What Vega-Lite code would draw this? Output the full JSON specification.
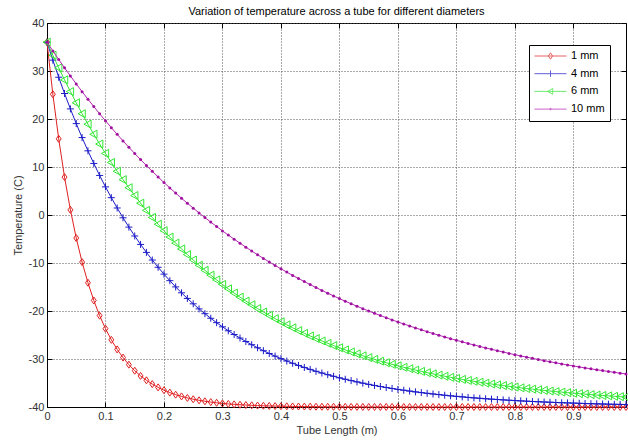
{
"$schema":"https://vega.github.io/schema/vega-lite/v6.json",
"width":579,"height":384,
"autosize":{"type":"none"},
"padding":{"left":47,"top":23,"right":2,"bottom":35},
"background":"#ffffff",
"title":{"text":"Variation of temperature across a tube for different diameters","fontSize":11,"fontWeight":"normal","font":"Liberation Sans","color":"#000","anchor":"middle","offset":0},
"data":{"values":[
{"s":"1 mm","x":0,"t":36},{"s":"1 mm","x":0.01,"t":25.16},{"s":"1 mm","x":0.02,"t":15.87},{"s":"1 mm","x":0.03,"t":7.9},{"s":"1 mm","x":0.04,"t":1.07},{"s":"1 mm","x":0.05,"t":-4.79},{"s":"1 mm","x":0.06,"t":-9.81},{"s":"1 mm","x":0.07,"t":-14.11},{"s":"1 mm","x":0.08,"t":-17.8},{"s":"1 mm","x":0.09,"t":-20.97},
{"s":"1 mm","x":0.1,"t":-23.68},{"s":"1 mm","x":0.11,"t":-26.01},{"s":"1 mm","x":0.12,"t":-28.0},{"s":"1 mm","x":0.13,"t":-29.71},{"s":"1 mm","x":0.14,"t":-31.18},{"s":"1 mm","x":0.15,"t":-32.44},{"s":"1 mm","x":0.16,"t":-33.52},{"s":"1 mm","x":0.17,"t":-34.44},{"s":"1 mm","x":0.18,"t":-35.23},{"s":"1 mm","x":0.19,"t":-35.91},
{"s":"1 mm","x":0.2,"t":-36.5},{"s":"1 mm","x":0.21,"t":-37},{"s":"1 mm","x":0.22,"t":-37.43},{"s":"1 mm","x":0.23,"t":-37.79},{"s":"1 mm","x":0.24,"t":-38.11},{"s":"1 mm","x":0.25,"t":-38.38},{"s":"1 mm","x":0.26,"t":-38.61},{"s":"1 mm","x":0.27,"t":-38.81},{"s":"1 mm","x":0.28,"t":-38.98},{"s":"1 mm","x":0.29,"t":-39.12},
{"s":"1 mm","x":0.3,"t":-39.25},{"s":"1 mm","x":0.31,"t":-39.36},{"s":"1 mm","x":0.32,"t":-39.45},{"s":"1 mm","x":0.33,"t":-39.53},{"s":"1 mm","x":0.34,"t":-39.59},{"s":"1 mm","x":0.35,"t":-39.65},{"s":"1 mm","x":0.36,"t":-39.7},{"s":"1 mm","x":0.37,"t":-39.74},{"s":"1 mm","x":0.38,"t":-39.78},{"s":"1 mm","x":0.39,"t":-39.81},
{"s":"1 mm","x":0.4,"t":-39.84},{"s":"1 mm","x":0.41,"t":-39.86},{"s":"1 mm","x":0.42,"t":-39.88},{"s":"1 mm","x":0.43,"t":-39.9},{"s":"1 mm","x":0.44,"t":-39.91},{"s":"1 mm","x":0.45,"t":-39.93},{"s":"1 mm","x":0.46,"t":-39.94},{"s":"1 mm","x":0.47,"t":-39.95},{"s":"1 mm","x":0.48,"t":-39.95},{"s":"1 mm","x":0.49,"t":-39.96},
{"s":"1 mm","x":0.5,"t":-39.97},{"s":"1 mm","x":0.51,"t":-39.97},{"s":"1 mm","x":0.52,"t":-39.98},{"s":"1 mm","x":0.53,"t":-39.98},{"s":"1 mm","x":0.54,"t":-39.98},{"s":"1 mm","x":0.55,"t":-39.99},{"s":"1 mm","x":0.56,"t":-39.99},{"s":"1 mm","x":0.57,"t":-39.99},{"s":"1 mm","x":0.58,"t":-39.99},{"s":"1 mm","x":0.59,"t":-39.99},
{"s":"1 mm","x":0.6,"t":-40},{"s":"1 mm","x":0.61,"t":-40},{"s":"1 mm","x":0.62,"t":-40},{"s":"1 mm","x":0.63,"t":-40},{"s":"1 mm","x":0.64,"t":-40},{"s":"1 mm","x":0.65,"t":-40},{"s":"1 mm","x":0.66,"t":-40},{"s":"1 mm","x":0.67,"t":-40},{"s":"1 mm","x":0.68,"t":-40},{"s":"1 mm","x":0.69,"t":-40},
{"s":"1 mm","x":0.7,"t":-40},{"s":"1 mm","x":0.71,"t":-40},{"s":"1 mm","x":0.72,"t":-40},{"s":"1 mm","x":0.73,"t":-40},{"s":"1 mm","x":0.74,"t":-40},{"s":"1 mm","x":0.75,"t":-40},{"s":"1 mm","x":0.76,"t":-40},{"s":"1 mm","x":0.77,"t":-40},{"s":"1 mm","x":0.78,"t":-40},{"s":"1 mm","x":0.79,"t":-40},
{"s":"1 mm","x":0.8,"t":-40},{"s":"1 mm","x":0.81,"t":-40},{"s":"1 mm","x":0.82,"t":-40},{"s":"1 mm","x":0.83,"t":-40},{"s":"1 mm","x":0.84,"t":-40},{"s":"1 mm","x":0.85,"t":-40},{"s":"1 mm","x":0.86,"t":-40},{"s":"1 mm","x":0.87,"t":-40},{"s":"1 mm","x":0.88,"t":-40},{"s":"1 mm","x":0.89,"t":-40},
{"s":"1 mm","x":0.9,"t":-40},{"s":"1 mm","x":0.91,"t":-40},{"s":"1 mm","x":0.92,"t":-40},{"s":"1 mm","x":0.93,"t":-40},{"s":"1 mm","x":0.94,"t":-40},{"s":"1 mm","x":0.95,"t":-40},{"s":"1 mm","x":0.96,"t":-40},{"s":"1 mm","x":0.97,"t":-40},{"s":"1 mm","x":0.98,"t":-40},{"s":"1 mm","x":0.99,"t":-40},
{"s":"4 mm","x":0,"t":36},{"s":"4 mm","x":0.01,"t":32.26},{"s":"4 mm","x":0.02,"t":28.7},{"s":"4 mm","x":0.03,"t":25.31},{"s":"4 mm","x":0.04,"t":22.1},{"s":"4 mm","x":0.05,"t":19.04},{"s":"4 mm","x":0.06,"t":16.13},{"s":"4 mm","x":0.07,"t":13.37},{"s":"4 mm","x":0.08,"t":10.74},{"s":"4 mm","x":0.09,"t":8.24},
{"s":"4 mm","x":0.1,"t":5.86},{"s":"4 mm","x":0.11,"t":3.61},{"s":"4 mm","x":0.12,"t":1.46},{"s":"4 mm","x":0.13,"t":-0.58},{"s":"4 mm","x":0.14,"t":-2.52},{"s":"4 mm","x":0.15,"t":-4.37},{"s":"4 mm","x":0.16,"t":-6.13},{"s":"4 mm","x":0.17,"t":-7.79},{"s":"4 mm","x":0.18,"t":-9.38},{"s":"4 mm","x":0.19,"t":-10.89},
{"s":"4 mm","x":0.2,"t":-12.32},{"s":"4 mm","x":0.21,"t":-13.68},{"s":"4 mm","x":0.22,"t":-14.98},{"s":"4 mm","x":0.23,"t":-16.21},{"s":"4 mm","x":0.24,"t":-17.38},{"s":"4 mm","x":0.25,"t":-18.5},{"s":"4 mm","x":0.26,"t":-19.56},{"s":"4 mm","x":0.27,"t":-20.56},{"s":"4 mm","x":0.28,"t":-21.52},{"s":"4 mm","x":0.29,"t":-22.43},
{"s":"4 mm","x":0.3,"t":-23.3},{"s":"4 mm","x":0.31,"t":-24.12},{"s":"4 mm","x":0.32,"t":-24.9},{"s":"4 mm","x":0.33,"t":-25.64},{"s":"4 mm","x":0.34,"t":-26.35},{"s":"4 mm","x":0.35,"t":-27.02},{"s":"4 mm","x":0.36,"t":-27.66},{"s":"4 mm","x":0.37,"t":-28.27},{"s":"4 mm","x":0.38,"t":-28.85},{"s":"4 mm","x":0.39,"t":-29.4},
{"s":"4 mm","x":0.4,"t":-29.92},{"s":"4 mm","x":0.41,"t":-30.42},{"s":"4 mm","x":0.42,"t":-30.89},{"s":"4 mm","x":0.43,"t":-31.34},{"s":"4 mm","x":0.44,"t":-31.76},{"s":"4 mm","x":0.45,"t":-32.17},{"s":"4 mm","x":0.46,"t":-32.56},{"s":"4 mm","x":0.47,"t":-32.92},{"s":"4 mm","x":0.48,"t":-33.27},{"s":"4 mm","x":0.49,"t":-33.6},
{"s":"4 mm","x":0.5,"t":-33.92},{"s":"4 mm","x":0.51,"t":-34.22},{"s":"4 mm","x":0.52,"t":-34.5},{"s":"4 mm","x":0.53,"t":-34.77},{"s":"4 mm","x":0.54,"t":-35.03},{"s":"4 mm","x":0.55,"t":-35.28},{"s":"4 mm","x":0.56,"t":-35.51},{"s":"4 mm","x":0.57,"t":-35.73},{"s":"4 mm","x":0.58,"t":-35.94},{"s":"4 mm","x":0.59,"t":-36.14},
{"s":"4 mm","x":0.6,"t":-36.33},{"s":"4 mm","x":0.61,"t":-36.51},{"s":"4 mm","x":0.62,"t":-36.68},{"s":"4 mm","x":0.63,"t":-36.85},{"s":"4 mm","x":0.64,"t":-37},{"s":"4 mm","x":0.65,"t":-37.15},{"s":"4 mm","x":0.66,"t":-37.29},{"s":"4 mm","x":0.67,"t":-37.42},{"s":"4 mm","x":0.68,"t":-37.55},{"s":"4 mm","x":0.69,"t":-37.67},
{"s":"4 mm","x":0.7,"t":-37.78},{"s":"4 mm","x":0.71,"t":-37.89},{"s":"4 mm","x":0.72,"t":-38},{"s":"4 mm","x":0.73,"t":-38.1},{"s":"4 mm","x":0.74,"t":-38.19},{"s":"4 mm","x":0.75,"t":-38.28},{"s":"4 mm","x":0.76,"t":-38.36},{"s":"4 mm","x":0.77,"t":-38.44},{"s":"4 mm","x":0.78,"t":-38.52},{"s":"4 mm","x":0.79,"t":-38.59},
{"s":"4 mm","x":0.8,"t":-38.66},{"s":"4 mm","x":0.81,"t":-38.73},{"s":"4 mm","x":0.82,"t":-38.79},{"s":"4 mm","x":0.83,"t":-38.85},{"s":"4 mm","x":0.84,"t":-38.91},{"s":"4 mm","x":0.85,"t":-38.96},{"s":"4 mm","x":0.86,"t":-39.01},{"s":"4 mm","x":0.87,"t":-39.06},{"s":"4 mm","x":0.88,"t":-39.11},{"s":"4 mm","x":0.89,"t":-39.15},
{"s":"4 mm","x":0.9,"t":-39.19},{"s":"4 mm","x":0.91,"t":-39.23},{"s":"4 mm","x":0.92,"t":-39.27},{"s":"4 mm","x":0.93,"t":-39.31},{"s":"4 mm","x":0.94,"t":-39.34},{"s":"4 mm","x":0.95,"t":-39.37},{"s":"4 mm","x":0.96,"t":-39.41},{"s":"4 mm","x":0.97,"t":-39.44},{"s":"4 mm","x":0.98,"t":-39.46},{"s":"4 mm","x":0.99,"t":-39.49},
{"s":"6 mm","x":0,"t":36},{"s":"6 mm","x":0.01,"t":33.29},{"s":"6 mm","x":0.02,"t":30.67},{"s":"6 mm","x":0.03,"t":28.15},{"s":"6 mm","x":0.04,"t":25.71},{"s":"6 mm","x":0.05,"t":23.37},{"s":"6 mm","x":0.06,"t":21.1},{"s":"6 mm","x":0.07,"t":18.92},{"s":"6 mm","x":0.08,"t":16.82},{"s":"6 mm","x":0.09,"t":14.79},
{"s":"6 mm","x":0.1,"t":12.83},{"s":"6 mm","x":0.11,"t":10.94},{"s":"6 mm","x":0.12,"t":9.12},{"s":"6 mm","x":0.13,"t":7.37},{"s":"6 mm","x":0.14,"t":5.68},{"s":"6 mm","x":0.15,"t":4.05},{"s":"6 mm","x":0.16,"t":2.47},{"s":"6 mm","x":0.17,"t":0.96},{"s":"6 mm","x":0.18,"t":-0.5},{"s":"6 mm","x":0.19,"t":-1.92},
{"s":"6 mm","x":0.2,"t":-3.27},{"s":"6 mm","x":0.21,"t":-4.59},{"s":"6 mm","x":0.22,"t":-5.85},{"s":"6 mm","x":0.23,"t":-7.07},{"s":"6 mm","x":0.24,"t":-8.25},{"s":"6 mm","x":0.25,"t":-9.38},{"s":"6 mm","x":0.26,"t":-10.47},{"s":"6 mm","x":0.27,"t":-11.53},{"s":"6 mm","x":0.28,"t":-12.54},{"s":"6 mm","x":0.29,"t":-13.52},
{"s":"6 mm","x":0.3,"t":-14.47},{"s":"6 mm","x":0.31,"t":-15.38},{"s":"6 mm","x":0.32,"t":-16.26},{"s":"6 mm","x":0.33,"t":-17.11},{"s":"6 mm","x":0.34,"t":-17.93},{"s":"6 mm","x":0.35,"t":-18.71},{"s":"6 mm","x":0.36,"t":-19.47},{"s":"6 mm","x":0.37,"t":-20.21},{"s":"6 mm","x":0.38,"t":-20.91},{"s":"6 mm","x":0.39,"t":-21.59},
{"s":"6 mm","x":0.4,"t":-22.25},{"s":"6 mm","x":0.41,"t":-22.89},{"s":"6 mm","x":0.42,"t":-23.5},{"s":"6 mm","x":0.43,"t":-24.09},{"s":"6 mm","x":0.44,"t":-24.65},{"s":"6 mm","x":0.45,"t":-25.2},{"s":"6 mm","x":0.46,"t":-25.73},{"s":"6 mm","x":0.47,"t":-26.24},{"s":"6 mm","x":0.48,"t":-26.73},{"s":"6 mm","x":0.49,"t":-27.2},
{"s":"6 mm","x":0.5,"t":-27.66},{"s":"6 mm","x":0.51,"t":-28.1},{"s":"6 mm","x":0.52,"t":-28.53},{"s":"6 mm","x":0.53,"t":-28.94},{"s":"6 mm","x":0.54,"t":-29.33},{"s":"6 mm","x":0.55,"t":-29.71},{"s":"6 mm","x":0.56,"t":-30.08},{"s":"6 mm","x":0.57,"t":-30.44},{"s":"6 mm","x":0.58,"t":-30.78},{"s":"6 mm","x":0.59,"t":-31.11},
{"s":"6 mm","x":0.6,"t":-31.42},{"s":"6 mm","x":0.61,"t":-31.73},{"s":"6 mm","x":0.62,"t":-32.02},{"s":"6 mm","x":0.63,"t":-32.31},{"s":"6 mm","x":0.64,"t":-32.58},{"s":"6 mm","x":0.65,"t":-32.85},{"s":"6 mm","x":0.66,"t":-33.1},{"s":"6 mm","x":0.67,"t":-33.35},{"s":"6 mm","x":0.68,"t":-33.59},{"s":"6 mm","x":0.69,"t":-33.82},
{"s":"6 mm","x":0.7,"t":-34.04},{"s":"6 mm","x":0.71,"t":-34.25},{"s":"6 mm","x":0.72,"t":-34.46},{"s":"6 mm","x":0.73,"t":-34.65},{"s":"6 mm","x":0.74,"t":-34.84},{"s":"6 mm","x":0.75,"t":-35.03},{"s":"6 mm","x":0.76,"t":-35.21},{"s":"6 mm","x":0.77,"t":-35.38},{"s":"6 mm","x":0.78,"t":-35.54},{"s":"6 mm","x":0.79,"t":-35.7},
{"s":"6 mm","x":0.8,"t":-35.85},{"s":"6 mm","x":0.81,"t":-36},{"s":"6 mm","x":0.82,"t":-36.15},{"s":"6 mm","x":0.83,"t":-36.28},{"s":"6 mm","x":0.84,"t":-36.42},{"s":"6 mm","x":0.85,"t":-36.54},{"s":"6 mm","x":0.86,"t":-36.67},{"s":"6 mm","x":0.87,"t":-36.79},{"s":"6 mm","x":0.88,"t":-36.9},{"s":"6 mm","x":0.89,"t":-37.01},
{"s":"6 mm","x":0.9,"t":-37.12},{"s":"6 mm","x":0.91,"t":-37.22},{"s":"6 mm","x":0.92,"t":-37.32},{"s":"6 mm","x":0.93,"t":-37.42},{"s":"6 mm","x":0.94,"t":-37.51},{"s":"6 mm","x":0.95,"t":-37.6},{"s":"6 mm","x":0.96,"t":-37.68},{"s":"6 mm","x":0.97,"t":-37.77},{"s":"6 mm","x":0.98,"t":-37.85},{"s":"6 mm","x":0.99,"t":-37.92},
{"s":"10 mm","x":0,"t":36},{"s":"10 mm","x":0.01,"t":34.18},{"s":"10 mm","x":0.02,"t":32.4},{"s":"10 mm","x":0.03,"t":30.66},{"s":"10 mm","x":0.04,"t":28.97},{"s":"10 mm","x":0.05,"t":27.31},{"s":"10 mm","x":0.06,"t":25.7},{"s":"10 mm","x":0.07,"t":24.13},{"s":"10 mm","x":0.08,"t":22.59},{"s":"10 mm","x":0.09,"t":21.09},
{"s":"10 mm","x":0.1,"t":19.62},{"s":"10 mm","x":0.11,"t":18.19},{"s":"10 mm","x":0.12,"t":16.8},{"s":"10 mm","x":0.13,"t":15.43},{"s":"10 mm","x":0.14,"t":14.1},{"s":"10 mm","x":0.15,"t":12.81},{"s":"10 mm","x":0.16,"t":11.54},{"s":"10 mm","x":0.17,"t":10.31},{"s":"10 mm","x":0.18,"t":9.1},{"s":"10 mm","x":0.19,"t":7.92},
{"s":"10 mm","x":0.2,"t":6.77},{"s":"10 mm","x":0.21,"t":5.65},{"s":"10 mm","x":0.22,"t":4.56},{"s":"10 mm","x":0.23,"t":3.49},{"s":"10 mm","x":0.24,"t":2.45},{"s":"10 mm","x":0.25,"t":1.43},{"s":"10 mm","x":0.26,"t":0.43},{"s":"10 mm","x":0.27,"t":-0.53},{"s":"10 mm","x":0.28,"t":-1.48},{"s":"10 mm","x":0.29,"t":-2.4},
{"s":"10 mm","x":0.3,"t":-3.31},{"s":"10 mm","x":0.31,"t":-4.19},{"s":"10 mm","x":0.32,"t":-5.04},{"s":"10 mm","x":0.33,"t":-5.88},{"s":"10 mm","x":0.34,"t":-6.7},{"s":"10 mm","x":0.35,"t":-7.5},{"s":"10 mm","x":0.36,"t":-8.28},{"s":"10 mm","x":0.37,"t":-9.04},{"s":"10 mm","x":0.38,"t":-9.78},{"s":"10 mm","x":0.39,"t":-10.51},
{"s":"10 mm","x":0.4,"t":-11.21},{"s":"10 mm","x":0.41,"t":-11.9},{"s":"10 mm","x":0.42,"t":-12.58},{"s":"10 mm","x":0.43,"t":-13.23},{"s":"10 mm","x":0.44,"t":-13.88},{"s":"10 mm","x":0.45,"t":-14.5},{"s":"10 mm","x":0.46,"t":-15.11},{"s":"10 mm","x":0.47,"t":-15.71},{"s":"10 mm","x":0.48,"t":-16.29},{"s":"10 mm","x":0.49,"t":-16.86},
{"s":"10 mm","x":0.5,"t":-17.42},{"s":"10 mm","x":0.51,"t":-17.96},{"s":"10 mm","x":0.52,"t":-18.49},{"s":"10 mm","x":0.53,"t":-19},{"s":"10 mm","x":0.54,"t":-19.51},{"s":"10 mm","x":0.55,"t":-20},{"s":"10 mm","x":0.56,"t":-20.48},{"s":"10 mm","x":0.57,"t":-20.94},{"s":"10 mm","x":0.58,"t":-21.4},{"s":"10 mm","x":0.59,"t":-21.85},
{"s":"10 mm","x":0.6,"t":-22.28},{"s":"10 mm","x":0.61,"t":-22.71},{"s":"10 mm","x":0.62,"t":-23.12},{"s":"10 mm","x":0.63,"t":-23.53},{"s":"10 mm","x":0.64,"t":-23.92},{"s":"10 mm","x":0.65,"t":-24.31},{"s":"10 mm","x":0.66,"t":-24.69},{"s":"10 mm","x":0.67,"t":-25.05},{"s":"10 mm","x":0.68,"t":-25.41},{"s":"10 mm","x":0.69,"t":-25.76},
{"s":"10 mm","x":0.7,"t":-26.1},{"s":"10 mm","x":0.71,"t":-26.43},{"s":"10 mm","x":0.72,"t":-26.76},{"s":"10 mm","x":0.73,"t":-27.08},{"s":"10 mm","x":0.74,"t":-27.39},{"s":"10 mm","x":0.75,"t":-27.69},{"s":"10 mm","x":0.76,"t":-27.98},{"s":"10 mm","x":0.77,"t":-28.27},{"s":"10 mm","x":0.78,"t":-28.55},{"s":"10 mm","x":0.79,"t":-28.83},
{"s":"10 mm","x":0.8,"t":-29.1},{"s":"10 mm","x":0.81,"t":-29.36},{"s":"10 mm","x":0.82,"t":-29.61},{"s":"10 mm","x":0.83,"t":-29.86},{"s":"10 mm","x":0.84,"t":-30.1},{"s":"10 mm","x":0.85,"t":-30.34},{"s":"10 mm","x":0.86,"t":-30.57},{"s":"10 mm","x":0.87,"t":-30.8},{"s":"10 mm","x":0.88,"t":-31.02},{"s":"10 mm","x":0.89,"t":-31.24},
{"s":"10 mm","x":0.9,"t":-31.45},{"s":"10 mm","x":0.91,"t":-31.65},{"s":"10 mm","x":0.92,"t":-31.85},{"s":"10 mm","x":0.93,"t":-32.05},{"s":"10 mm","x":0.94,"t":-32.24},{"s":"10 mm","x":0.95,"t":-32.42},{"s":"10 mm","x":0.96,"t":-32.6},{"s":"10 mm","x":0.97,"t":-32.78},{"s":"10 mm","x":0.98,"t":-32.95},{"s":"10 mm","x":0.99,"t":-33.12}
]},
"resolve":{"axis":{"x":"independent","y":"independent"}},
"layer":[
{"transform":[{"filter":"datum.s === '1 mm'"}],
 "mark":{"type":"line","strokeWidth":1,"color":"#e02020",
   "point":{"shape":"M0,-1L0.7,0L0,1L-0.7,0Z","size":49,"filled":false,"strokeWidth":1,"color":"#e02020"}},
 "encoding":{
  "x":{"field":"x","type":"quantitative","scale":{"domain":[0,0.99],"nice":false,"zero":false},
       "axis":{"title":"Tube Length (m)","values":[0,0.1,0.2,0.3,0.4,0.5,0.6,0.7,0.8,0.9],"labelExpr":"'' + datum.value","grid":true,"tickSize":-5,"labelPadding":8,"titlePadding":3}},
  "y":{"field":"t","type":"quantitative","scale":{"domain":[-40,40],"nice":false,"zero":false},
       "axis":{"title":"Temperature (C)","values":[-40,-30,-20,-10,0,10,20,30,40],"labelExpr":"'' + datum.value","grid":true,"tickSize":-5,"labelPadding":8,"titlePadding":5}}
 }},
{"transform":[{"filter":"datum.s === '4 mm'"}],
 "mark":{"type":"line","strokeWidth":1,"color":"#1c1cc8",
   "point":{"shape":"M-1,0H1M0,-1V1","size":49,"filled":false,"strokeWidth":1,"color":"#1c1cc8"}},
 "encoding":{"x":{"field":"x","type":"quantitative","axis":null},"y":{"field":"t","type":"quantitative","axis":null}}},
{"transform":[{"filter":"datum.s === '6 mm'"}],
 "mark":{"type":"line","strokeWidth":1,"color":"#33e633",
   "point":{"shape":"M-1,0L0.8,-1L0.8,1Z","size":64,"filled":false,"strokeWidth":1,"color":"#33e633"}},
 "encoding":{"x":{"field":"x","type":"quantitative","axis":null},"y":{"field":"t","type":"quantitative","axis":null}}},
{"transform":[{"filter":"datum.s === '10 mm'"}],
 "mark":{"type":"line","strokeWidth":1,"color":"#b424b4",
   "point":{"shape":"circle","size":9,"filled":true,"color":"#a010a0"}},
 "encoding":{"x":{"field":"x","type":"quantitative","axis":null},"y":{"field":"t","type":"quantitative","axis":null}}},
{"transform":[{"filter":"datum.x > 5"}],
 "mark":{"type":"point","filled":false,"strokeWidth":1},
 "encoding":{
  "x":{"field":"x","type":"quantitative","scale":{"domain":[0,0.99],"nice":false,"zero":false},
       "axis":{"orient":"top","labels":false,"title":null,"grid":false,"domain":false,"tickSize":-5,"values":[0,0.1,0.2,0.3,0.4,0.5,0.6,0.7,0.8,0.9]}},
  "y":{"field":"t","type":"quantitative","scale":{"domain":[-40,40],"nice":false,"zero":false},
       "axis":{"orient":"right","labels":false,"title":null,"grid":false,"domain":false,"tickSize":-5,"values":[-40,-30,-20,-10,0,10,20,30,40]}},
  "color":{"field":"s","type":"nominal","scale":{"domain":["1 mm","4 mm","6 mm","10 mm"],"range":["#e02020","#1c1cc8","#33e633","#b424b4"]},
           "legend":{"orient":"none","legendX":482,"legendY":22,"title":null}},
  "shape":{"field":"s","type":"nominal","scale":{"domain":["1 mm","4 mm","6 mm","10 mm"],"range":[
     "M-1,0H1M0,-0.2L0.13,0L0,0.2L-0.13,0Z",
     "M-1,0H1M0,-0.2V0.2",
     "M-1,0H1M-0.18,0L0.14,-0.18L0.14,0.18Z",
     "M-1,0H1M-0.05,0A0.05,0.05 0 1,0 0.05,0A0.05,0.05 0 1,0 -0.05,0"]},
           "legend":{"orient":"none","legendX":482,"legendY":22,"title":null}}
 }}
],
"config":{
 "font":"Liberation Sans",
 "view":{"stroke":"#000","strokeWidth":1},
 "axis":{"labelFontSize":11,"labelColor":"#333","labelFont":"Liberation Sans","titleFontSize":11,"titleFontWeight":"normal","titleColor":"#333","titleFont":"Liberation Sans","domainColor":"#000","tickColor":"#000","gridColor":"#555","gridDash":[1,2],"gridOpacity":1,"gridWidth":1,"labelFlush":false,"labelOverlap":false},
 "legend":{"strokeColor":"#000","fillColor":"#fff","padding":5,"symbolSize":1024,"symbolStrokeWidth":1,"labelFontSize":11,"labelColor":"#000","labelFont":"Liberation Sans","labelOffset":4,"rowPadding":5.7,"clipHeight":12,"cornerRadius":0}
}
}
